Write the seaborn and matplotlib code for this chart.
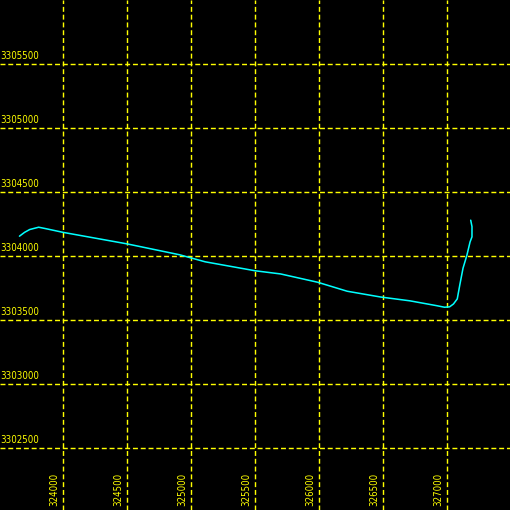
import matplotlib
matplotlib.use("Agg")
import matplotlib.pyplot as plt
import matplotlib.transforms as mtransforms
import seaborn as sns

# track coordinates (easting / northing)
east = [323660, 323700, 323740, 323810, 323860, 324000, 324500, 324910, 325110,
        325500, 325700, 325990, 326220, 326480, 326710, 326920, 326980, 327020,
        327050, 327080, 327100, 327125, 327155, 327180, 327195, 327195, 327185]
north = [3304155, 3304185, 3304207, 3304225, 3304215, 3304185, 3304095, 3304010,
         3303955, 3303885, 3303860, 3303795, 3303725, 3303680, 3303650, 3303612,
         3303600, 3303603, 3303625, 3303665, 3303775, 3303905, 3304005, 3304110,
         3304150, 3304230, 3304280]

x_ticks = [324000, 324500, 325000, 325500, 326000, 326500, 327000]
y_ticks = [3302500, 3303000, 3303500, 3304000, 3304500, 3305000, 3305500]

sns.set_style("dark")
plt.rcParams["font.family"] = ["DejaVu Sans"]

fig = plt.figure(figsize=(5, 5), dpi=102, facecolor="black")
ax = fig.add_axes([0, 0, 1, 1])
ax.set_facecolor("black")

sns.lineplot(x=east, y=north, sort=False, estimator=None, color="#00ffff",
             linewidth=1.1, ax=ax)

ax.set_xlim(323508, 327492)
ax.set_ylim(3302016, 3306000)

grid_kw = dict(color="#ffff00", linewidth=1.0, linestyle=(0, (3.5, 2)), zorder=1)
for xv in x_ticks:
    ax.axvline(xv, **grid_kw)
for yv in y_ticks:
    ax.axhline(yv, **grid_kw)

xtrans = mtransforms.blended_transform_factory(ax.transData, ax.transAxes)
ytrans = mtransforms.blended_transform_factory(ax.transAxes, ax.transData)

for xv in x_ticks:
    ax.annotate(str(xv), xy=(xv, 0.073), xycoords=xtrans, xytext=(-2.5, 0),
                textcoords="offset points", rotation=90, ha="right", va="top",
                color="#ffff00", fontsize=6.8, fontstretch="condensed")
for yv in y_ticks:
    ax.annotate(str(yv), xy=(0.0, yv), xycoords=ytrans, xytext=(0, 2),
                textcoords="offset points", ha="left", va="bottom",
                color="#ffff00", fontsize=6.8, fontstretch="condensed")

ax.set_xticks([])
ax.set_yticks([])
ax.set_xlabel("")
ax.set_ylabel("")
for s in ax.spines.values():
    s.set_visible(False)

fig.savefig("out.png", dpi=102, facecolor="black")
